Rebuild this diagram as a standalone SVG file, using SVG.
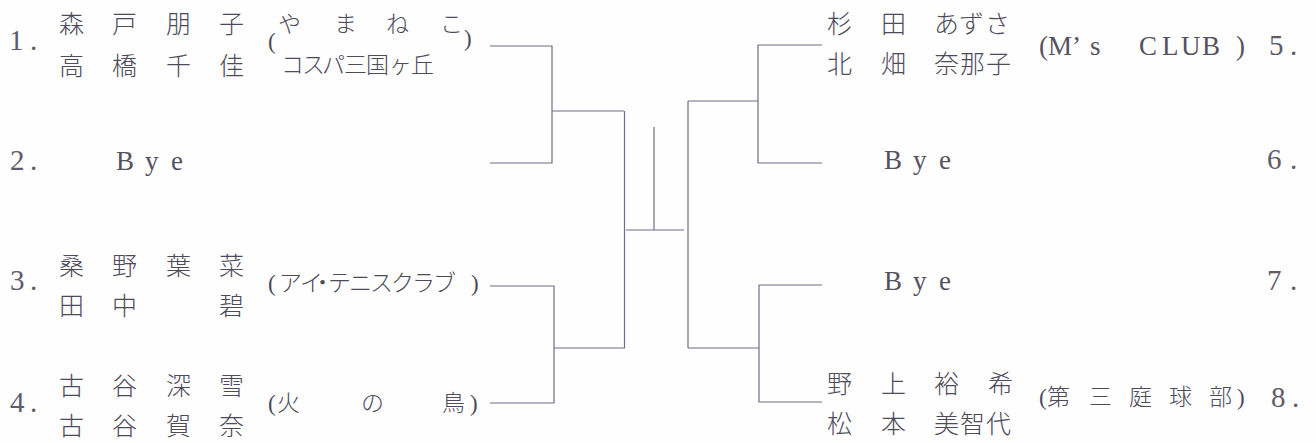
<svg xmlns="http://www.w3.org/2000/svg" width="1316" height="443" viewBox="0 0 1316 443">
<style>
text{font-family:"Liberation Serif","Noto Sans CJK JP",serif;fill:#4d4a5a;}
.num{font-size:29px;fill:#5e5b6b;}
.nm{font-size:25px;font-weight:300;}
.cl{font-size:23px;font-weight:300;}
.lat{font-size:27px;fill:#55525f;}
.par{font-size:23px;}
#connectors path{fill:none;stroke:#6e6e86;stroke-width:1.2;}
</style>
<rect width="1316" height="443" fill="#fefefe"/>
<g id="connectors">
<path d="M490,46 H552 V163 H490"/>
<path d="M552,111 H624"/>
<path d="M490,286 H554 V403 H490"/>
<path d="M554,348 H625"/>
<path d="M624.5,111 V348"/>
<path d="M626,230 H684"/>
<path d="M654,127 V230"/>
<path d="M688,101 V348"/>
<path d="M688,101 H758"/>
<path d="M822,45 H758 V163 H822"/>
<path d="M688,348 H759"/>
<path d="M822,285 H759 V402 H822"/>
</g>
<g id="entry1">
<text class="num" x="9 30" y="50">1.</text>
<text class="nm" x="59 112 166 219" y="33">森戸朋子</text>
<text class="nm" x="59 112 166 219" y="75">高橋千佳</text>
<text class="par" x="268" y="49">(</text>
<text class="cl" x="278 334 386 440" y="32">やまねこ</text>
<text class="cl" x="281 302 322 344 366 389 411" y="73">コスパ三国ヶ丘</text>
<text class="par" x="464" y="46">)</text>
</g>
<g id="entry2">
<text class="num" x="10 30" y="170">2.</text>
<text class="lat" x="116 145 171" y="170">Bye</text>
</g>
<g id="entry3">
<text class="num" x="10 30" y="290">3.</text>
<text class="nm" x="59 112 166 219" y="275">桑野葉菜</text>
<text class="nm" x="59 112 219" y="315">田中碧</text>
<text class="cl" x="268 279 300 311 328 349 370 391 412 433 471" y="291">(アイ・テニスクラブ)</text>
</g>
<g id="entry4">
<text class="num" x="10 30" y="412">4.</text>
<text class="nm" x="59 112 166 219" y="395">古谷深雪</text>
<text class="nm" x="59 112 166 219" y="435">古谷賀奈</text>
<text class="cl" x="268 277 361 442 470" y="411">(火の鳥)</text>
</g>
<g id="entry5">
<text class="nm" x="827 881 934 959 985" y="33">杉田あずさ</text>
<text class="nm" x="827 881 934 960 986" y="73">北畑奈那子</text>
<text class="lat" x="1039 1048 1072 1090 1139 1162 1181 1202 1236" y="55">(M’sCLUB)</text>
<text class="num" x="1269 1290" y="55">5.</text>
</g>
<g id="entry6">
<text class="lat" x="884 913 939" y="169">Bye</text>
<text class="num" x="1267 1290" y="169">6.</text>
</g>
<g id="entry7">
<text class="lat" x="884 913 939" y="290">Bye</text>
<text class="num" x="1267 1290" y="290">7.</text>
</g>
<g id="entry8">
<text class="nm" x="827 881 934 988" y="393">野上裕希</text>
<text class="nm" x="827 881 934 960 986" y="433">松本美智代</text>
<text class="cl" x="1039 1047 1089 1129 1169 1209 1237" y="405">(第三庭球部)</text>
<text class="num" x="1271 1292" y="407">8.</text>
</g>
</svg>
